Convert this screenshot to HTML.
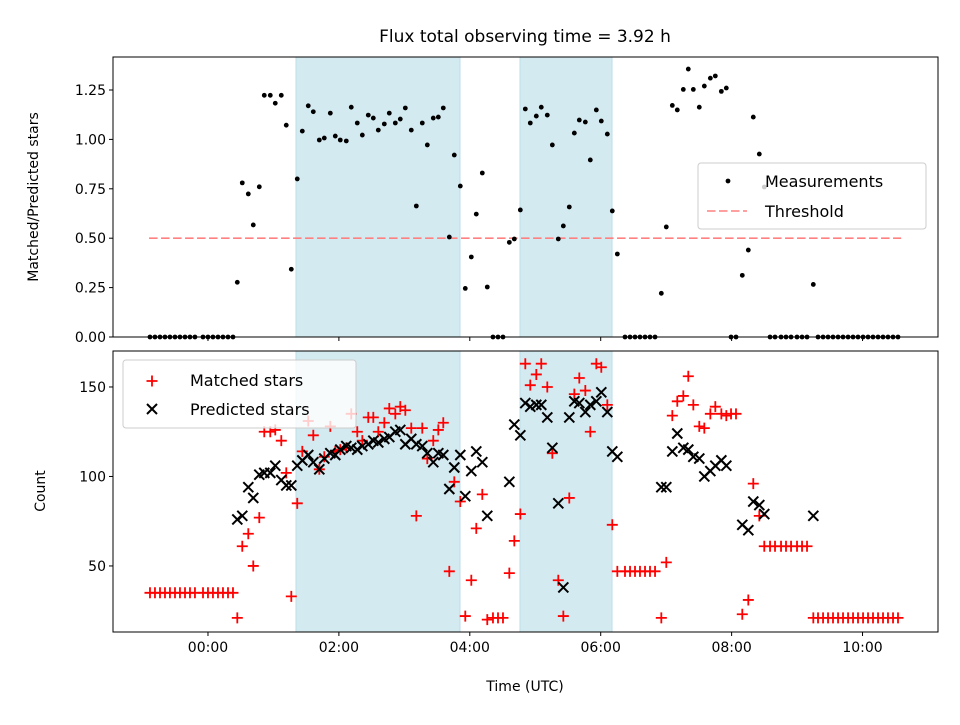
<!DOCTYPE html>
<html><head><meta charset="utf-8"><style>
body{margin:0;background:#fff;}
svg text{font-family:"DejaVu Sans","Liberation Sans",sans-serif;fill:#000;}
</style></head><body>
<svg id="chart" width="960" height="720" xmlns="http://www.w3.org/2000/svg">
<rect width="960" height="720" fill="#fff"/>
<g id="topP"></g>
<g id="botP"></g>
<g id="overlay"></g>
</svg>
<script>
const times=[-0.886,-0.81,-0.733,-0.657,-0.581,-0.504,-0.428,-0.351,-0.275,-0.199,-0.076,0,0.076,0.153,0.229,0.306,0.382,
0.448,0.524,0.616,0.692,0.784,0.86,0.952,1.028,1.12,1.196,1.273,1.364,1.441,1.532,1.609,1.701,1.777,1.869,1.945,2.021,2.113,2.189,2.281,2.358,2.449,2.526,2.602,2.694,2.77,2.862,2.938,3.015,3.106,3.183,3.274,3.351,3.442,3.519,3.595,3.687,3.763,3.855,3.931,4.023,4.099,4.191,4.267,
4.354,4.431,4.507,4.604,4.68,4.772,4.848,4.924,5.016,5.092,5.184,5.261,5.352,5.429,5.52,5.597,5.673,5.765,5.841,5.933,6.009,6.101,6.177,6.254,
6.371,6.448,6.524,6.6,6.677,6.753,6.83,6.926,7.002,7.094,7.17,7.262,7.338,7.415,7.506,7.583,7.675,7.751,7.843,7.919,7.991,8.067,8.163,8.255,8.331,8.423,8.499,
8.587,8.663,8.755,8.831,8.908,8.999,9.076,9.152,9.248,
9.32,9.397,9.473,9.549,9.626,9.702,9.779,9.855,9.931,10.008,10.084,10.16,10.237,10.313,10.389,10.466,10.542];
const ratio=[0,0,0,0,0,0,0,0,0,0,0,0,0,0,0,0,0,
0.277,0.78,0.724,0.567,0.76,1.223,1.223,1.183,1.223,1.072,0.343,0.80,1.042,1.17,1.14,0.997,1.007,1.133,1.017,0.997,0.992,1.163,1.083,1.022,1.123,1.108,1.047,1.078,1.133,1.083,1.103,1.159,1.047,0.663,1.083,0.972,1.108,1.113,1.159,0.506,0.921,0.764,0.246,0.405,0.622,0.83,0.253,
0,0,0,0.479,0.496,0.643,1.154,1.083,1.118,1.163,1.123,0.972,0.496,0.562,0.658,1.032,1.098,1.088,0.896,1.149,1.093,1.027,0.638,0.42,
0,0,0,0,0,0,0,0.221,0.557,1.172,1.149,1.253,1.356,1.253,1.163,1.27,1.31,1.321,1.243,1.26,0,0,0.312,0.44,1.113,0.926,0.759,
0,0,0,0,0,0,0,0,0.266,
0,0,0,0,0,0,0,0,0,0,0,0,0,0,0,0,0];
const matched=[35,35,35,35,35,35,35,35,35,35,35,35,35,35,35,35,35,
21,61,68,50,77,125,125,126,120,102,33,85,114,131,123,104,111,128,114,115,116,135,125,120,133,133,125,130,138,135,139,137,127,78,127,110,120,126,130,47,97,86,22,42,71,90,20,
21,21,21,46,64,79,163,151,157,163,150,113,42,22,88,146,155,148,125,163,161,140,73,47,
47,47,47,47,47,47,47,21,52,134,142,145,156,140,128,127,135,139,135,134,135,135,23,31,96,78,61,
61,61,61,61,61,61,61,61,21,
21,21,21,21,21,21,21,21,21,21,21,21,21,21,21,21,21];
const predicted=[null,null,null,null,null,null,null,null,null,null,null,null,null,null,null,null,null,
76,78,94,88,101,102,102,106,98,95,95,106,109,112,108,104,110,113,112,115,117,116,115,117,118,120,119,121,122,125,126,118,121,118,117,113,108,113,112,93,105,112,89,103,114,108,78,
null,null,null,97,129,123,141,139,140,140,133,116,85,38,133,142,141,136,140,142,147,136,114,111,
null,null,null,null,null,null,null,94,94,114,124,116,115,111,110,100,103,106,109,106,null,null,73,70,86,84,79,
null,null,null,null,null,null,null,null,78,
null,null,null,null,null,null,null,null,null,null,null,null,null,null,null,null,null];
const spans=[[1.345,3.85],[4.767,6.173]];
const xTicks=[0,2,4,6,8,10];
const xTickLabels=["00:00","02:00","04:00","06:00","08:00","10:00"];
const topTicks=[0,0.25,0.5,0.75,1.0,1.25];
const topTickLabels=["0.00","0.25","0.50","0.75","1.00","1.25"];
const botTicks=[50,100,150];
const threshold=0.5, thrRange=[-0.9,10.59];

const NS="http://www.w3.org/2000/svg";
const L=113,R=938,T1=57,B1=337,T2=351,B2=632;
const xMin=-1.451,xMax=11.153;
const X=h=>L+(h-xMin)/(xMax-xMin)*(R-L);
const Y1=v=>B1-v/1.417*(B1-T1);
const Y2=v=>B2-(v-13.1)/(170.1-13.1)*(B2-T2);
function el(tag,attrs,parent,text){const e=document.createElementNS(NS,tag);for(const k in attrs)e.setAttribute(k,attrs[k]);if(text!==undefined)e.textContent=text;parent.appendChild(e);return e;}
const topG=document.getElementById('topP'),botG=document.getElementById('botP'),ov=document.getElementById('overlay');

[[topG,T1,B1],[botG,T2,B2]].forEach(([g,t,b])=>{
  spans.forEach(s=>{
    const r=el('rect',{x:X(s[0]),y:t,width:X(s[1])-X(s[0]),height:b-t,fill:'#d4eaf1',stroke:'#bcdde8','stroke-width':1},g);
    
    
  });
});
const th=el('line',{x1:X(thrRange[0]),x2:X(thrRange[1]),y1:Y1(threshold),y2:Y1(threshold),stroke:'#ff8080','stroke-width':1.6,'stroke-dasharray':'8.5,3.5'},topG);


times.forEach((t,i)=>{
  const c=el('circle',{cx:X(t),cy:Y1(ratio[i]),r:2.4,fill:'#000'},topG);
  
  
});
times.forEach((t,i)=>{
  const x=X(t),y=Y2(matched[i]),s=5.5;
  const p=el('path',{d:`M${x-s},${y}H${x+s}M${x},${y-s}V${y+s}`,stroke:'#f00','stroke-width':1.8,fill:'none'},botG);
  
  
});
times.forEach((t,i)=>{
  if(predicted[i]===null)return;
  const x=X(t),y=Y2(predicted[i]),s=5;
  const p=el('path',{d:`M${x-s},${y-s}L${x+s},${y+s}M${x-s},${y+s}L${x+s},${y-s}`,stroke:'#000','stroke-width':2,fill:'none'},botG);
  
  
});
[[T1,B1],[T2,B2]].forEach(([t,b])=>{
  const f=el('rect',{x:L,y:t,width:R-L,height:b-t,fill:'none',stroke:'#000','stroke-width':1},ov);
  
  
});
xTicks.forEach((v,i)=>{
  [B1,B2].forEach(b=>{el('line',{x1:X(v),x2:X(v),y1:b,y2:b+4,stroke:'#000','stroke-width':1},ov);});
  const tx=el('text',{x:X(v),y:B2+20,'font-size':14,'text-anchor':'middle'},ov,xTickLabels[i]);
  
  
});
topTicks.forEach((v,i)=>{
  el('line',{x1:L-4,x2:L,y1:Y1(v),y2:Y1(v),stroke:'#000','stroke-width':1},ov);
  const tx=el('text',{x:L-7,y:Y1(v)+5,'font-size':14,'text-anchor':'end'},ov,topTickLabels[i]);
  
  
});
botTicks.forEach(v=>{
  el('line',{x1:L-4,x2:L,y1:Y2(v),y2:Y2(v),stroke:'#000','stroke-width':1},ov);
  const tx=el('text',{x:L-7,y:Y2(v)+5,'font-size':14,'text-anchor':'end'},ov,String(v));
  
  
});
</script>
<svg style="position:absolute;left:0;top:0" width="960" height="720" xmlns="http://www.w3.org/2000/svg">
<text x="525" y="42" font-size="17" text-anchor="middle">Flux total observing time = 3.92 h</text>
<text transform="translate(38,197) rotate(-90)" font-size="14" text-anchor="middle">Matched/Predicted stars</text>
<text transform="translate(45,491) rotate(-90)" font-size="14" text-anchor="middle">Count</text>
<text x="525" y="691" font-size="14" text-anchor="middle">Time (UTC)</text>
<g>
<rect x="698" y="163" width="228" height="66" rx="3" fill="#fff" fill-opacity="0.8" stroke="#ccc"/>
<circle cx="728" cy="181" r="2.4" fill="#000"/>
<text x="765" y="187" font-size="16">Measurements</text>
<line x1="707" x2="747" y1="211" y2="211" stroke="#ff8080" stroke-width="1.6" stroke-dasharray="8.5,3.5"/>
<text x="765" y="217" font-size="16">Threshold</text>
</g>
<g>
<rect x="123" y="360" width="233" height="68" rx="3" fill="#fff" fill-opacity="0.8" stroke="#ccc"/>
<path d="M146.5,381H157.5M152,375.5V386.5" stroke="#f00" stroke-width="1.8"/>
<text x="190" y="386" font-size="16">Matched stars</text>
<path d="M147,404L157,414M147,414L157,404" stroke="#000" stroke-width="2"/>
<text x="190" y="415" font-size="16">Predicted stars</text>
</g>
</svg>
</body></html>
